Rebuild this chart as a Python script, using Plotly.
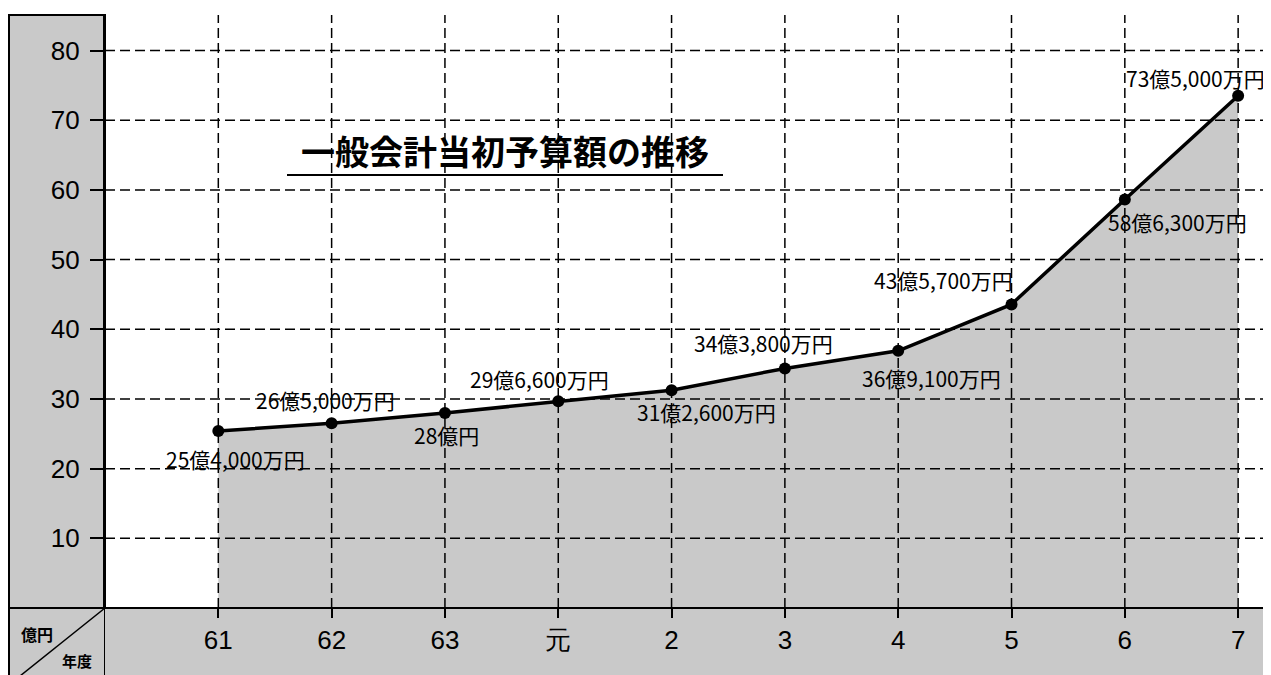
import plotly.graph_objects as go

# ---- data ----
years = ["61", "62", "63", "元", "2", "3", "4", "5", "6", "7"]
budget = [25.40, 26.50, 28.00, 29.66, 31.26, 34.38, 36.91, 43.57, 58.63, 73.50]
labels = ["25億4,000万円", "26億5,000万円", "28億円", "29億6,600万円", "31億2,600万円",
          "34億3,800万円", "36億9,100万円", "43億5,700万円", "58億6,300万円", "73億5,000万円"]
y_ticks = [10, 20, 30, 40, 50, 60, 70, 80]
title_text = "一般会計当初予算額の推移"
unit_y = "億円"
unit_x = "年度"

# label offsets in pixels (layout only)
label_dx = [17, -6, 2, -19, 35, -21, 33, -68, 53, -43]
label_dy = [-28, 23, -22, 22, -22, 25, -27, 24, -23, 18]

OFF = 8  # page body margin
W, H = 1271 - OFF, 675 - OFF
L, R, T, B = 105 - OFF, 0, 15 - OFF, 67
GRAY = "#c9c9c9"
FONT = "Noto Sans CJK JP"
TICKFONT = "Liberation Sans, sans-serif"
DASH = "10px,5px"

xs = list(range(len(years)))
fig = go.Figure()

fig.add_trace(go.Scatter(
    x=xs, y=budget, mode="lines+markers",
    line=dict(color="black", width=3.5),
    marker=dict(color="black", size=12),
    fill="tozeroy", fillcolor=GRAY,
    hoverinfo="skip", showlegend=False,
))

pw = W - L - R
ph = H - T - B
# convert screen pixel coordinates to paper coordinates
px = lambda p: (p - OFF - L) / pw
py = lambda p: (H - B - (p - OFF)) / ph

shapes = []
for v in y_ticks:
    shapes.append(dict(type="line", xref="paper", yref="y", x0=0, x1=1, y0=v, y1=v,
                       line=dict(color="black", width=1.5, dash=DASH), layer="above"))
for i in xs:
    shapes.append(dict(type="line", xref="x", yref="paper", x0=i, x1=i, y0=0, y1=1,
                       line=dict(color="black", width=1.5, dash=DASH), layer="above"))

shapes.append(dict(type="rect", xref="paper", yref="paper", x0=px(9), x1=0, y0=py(676), y1=1,
                   fillcolor=GRAY, line=dict(color="black", width=2), layer="below"))
shapes.append(dict(type="rect", xref="paper", yref="paper", x0=0, x1=1.01, y0=py(676), y1=0,
                   fillcolor=GRAY, line=dict(width=0), layer="below"))
shapes.append(dict(type="line", xref="paper", yref="paper", x0=px(9), x1=1, y0=0, y1=0,
                   line=dict(color="black", width=2), layer="above"))
shapes.append(dict(type="line", xref="paper", yref="paper", x0=0, x1=px(20), y0=0, y1=py(676),
                   line=dict(color="black", width=1.5), layer="above"))
shapes.append(dict(type="line", xref="paper", yref="paper", x0=px(287), x1=px(723), y0=py(175), y1=py(175),
                   line=dict(color="black", width=2), layer="above"))

annotations = []
for i, (v, t) in enumerate(zip(budget, labels)):
    annotations.append(dict(x=i, y=v, xref="x", yref="y", text=t, showarrow=False,
                            xanchor="center", yanchor="middle",
                            xshift=label_dx[i], yshift=label_dy[i],
                            font=dict(family=FONT, size=21, color="black")))
annotations.append(dict(x=px(505), y=py(150), xref="paper", yref="paper", text=title_text,
                        showarrow=False, xanchor="center", yanchor="middle",
                        font=dict(family=FONT, size=34, color="black", weight="bold")))
annotations.append(dict(x=px(37), y=py(634), xref="paper", yref="paper", text=unit_y,
                        showarrow=False, xanchor="center", yanchor="middle",
                        font=dict(family=FONT, size=16, color="black", weight="bold")))
annotations.append(dict(x=px(77), y=py(660), xref="paper", yref="paper", text=unit_x,
                        showarrow=False, xanchor="center", yanchor="middle",
                        font=dict(family=FONT, size=15, color="black", weight="bold")))

fig.update_layout(
    width=W, height=H,
    margin=dict(l=L, r=R, t=T, b=B, pad=0),
    paper_bgcolor="white", plot_bgcolor="white",
    shapes=shapes, annotations=annotations,
    xaxis=dict(range=[-1, 9.29], tickmode="array", tickvals=xs, ticktext=years,
               showgrid=False, zeroline=False, showline=False,
               ticks="outside", ticklen=9, tickwidth=2, tickcolor="black",
               tickfont=dict(family=TICKFONT, size=26, color="black")),
    yaxis=dict(range=[0, 85.1], tickmode="array", tickvals=y_ticks,
               ticktext=[f"{v}\u2009" for v in y_ticks],
               showgrid=False, zeroline=False, showline=True, linecolor="black", linewidth=2,
               ticks="outside", ticklen=13, tickwidth=2, tickcolor="black",
               tickfont=dict(family=TICKFONT, size=26, color="black")),
)

fig.write_html("out.html")
